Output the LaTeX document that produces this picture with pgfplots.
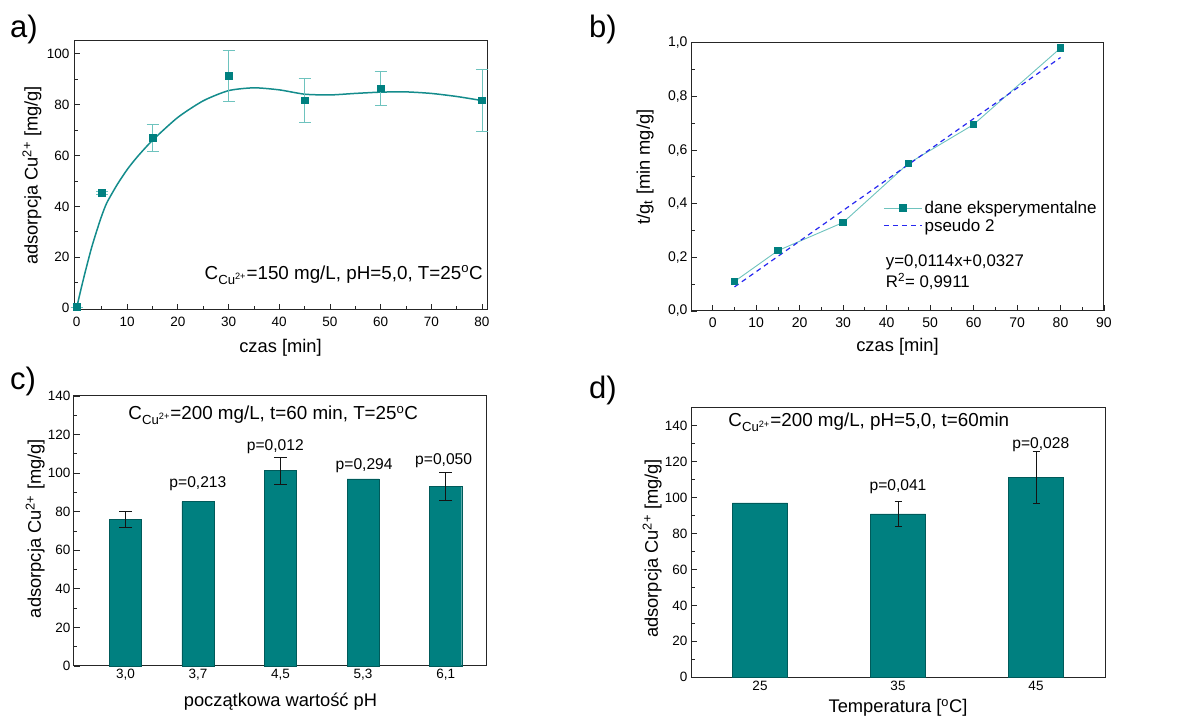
\documentclass[border=0pt]{standalone}
\usepackage{fontspec}
\setmainfont{Liberation Sans}
\usepackage{pgfplots}
\pgfplotsset{compat=1.18}
\definecolor{teal1}{RGB}{0,128,128}
\definecolor{tealline}{RGB}{20,140,140}
\definecolor{teallight}{RGB}{110,195,190}
\definecolor{fitblue}{RGB}{40,40,240}
\definecolor{errgrey}{RGB}{20,20,20}
\pgfplotsset{
  myaxis/.style={
    scale only axis,
    axis line style={black!85, line width=1pt},
    tick style={black!85, line width=0.8pt},
    tick align=inside,
    tick pos=left,
    major tick length=6pt,
    minor tick length=3.5pt,
    /pgf/number format/assume math mode=true,
    tick label style={font=\fontsize{13.5}{15}\selectfont},
    label style={font=\fontsize{18.3}{22}\selectfont},
    clip=false,
  }
}
\begin{document}
\begin{tikzpicture}
\useasboundingbox (0,0) rectangle (1179pt,720pt);
% panel labels
\node[anchor=base west, inner sep=0, font=\fontsize{31}{37}\selectfont] at (10pt,682pt) {a)};
\node[anchor=base west, inner sep=0, font=\fontsize{31}{37}\selectfont] at (589pt,682pt) {b)};
\node[anchor=base west, inner sep=0, font=\fontsize{31}{37}\selectfont] at (10pt,330pt) {c)};
\node[anchor=base west, inner sep=0, font=\fontsize{31}{37}\selectfont] at (589pt,321pt) {d)};

% ---------------- a)
\begin{axis}[myaxis,
  at={(74pt,410pt)}, anchor=south west,
  width=413pt, height=269pt,
  xmin=-0.5, xmax=81, ymin=-0.7, ymax=105,
  xtick={0,10,...,80}, ytick={0,20,...,100},
  minor x tick num=1, minor y tick num=1,
  xticklabel style={yshift=-4pt},
  yticklabel style={xshift=-1pt},
  xlabel={czas [min]},
  ylabel={adsorpcja Cu\textsuperscript{2+} [mg/g]},
  xlabel style={at={(axis description cs:0.5,-0.141)}, anchor=center},
  ylabel style={at={(axis description cs:-0.102,0.5)}, anchor=center},
]
\addplot[tealline, line width=1.5pt, smooth, tension=0.4] coordinates {
(0,0) (1,8.5) (2,16.5) (3,24) (4,30.5) (5,36.5) (6,41.5) (8,48.5) (10,54.5) (12,59.5)
(15,66) (20,75) (25,81.5) (30,85.5) (35,86.6) (40,85.8) (45,84.1) (50,83.8)
(55,84.4) (60,84.9) (65,85) (70,84.4) (75,83.2) (80,81.6)};
\addplot[only marks, mark=square*, mark size=3.3pt, mark options={fill=teal1, draw=teal1},
  error bars/.cd, y dir=both, y explicit,
  error bar style={teallight, line width=0.8pt},
  error mark options={rotate=90, mark size=6pt, teallight, line width=0.8pt}]
coordinates {
(0,0.5) +- (0,0)
(5,45.3) +- (0,0.6)
(15,67) +- (0,5.3)
(30,91.3) +- (0,10.1)
(45,81.7) +- (0,8.7)
(60,86.5) +- (0,6.7)
(80,81.7) +- (0,12.2)};
\node[anchor=base east, inner sep=0, font=\fontsize{18.8}{22}\selectfont] at (axis cs:80.2,11.4)
 {C\textsubscript{Cu\textsuperscript{2+}}=150 mg/L, pH=5,0, T=25\textsuperscript{o}C};
\end{axis}

% ---------------- b)
\begin{axis}[myaxis,
  at={(691pt,409pt)}, anchor=south west,
  width=413pt, height=268.3pt,
  xmin=-5, xmax=90, ymin=0, ymax=1,
  xtick={0,10,...,90}, ytick={0,0.2,...,1.0},
  minor x tick num=1, minor y tick num=1,
  tick label style={font=\fontsize{14}{16}\selectfont},
  xticklabel style={yshift=-3pt},
  yticklabel style={/pgf/number format/.cd, fixed, fixed zerofill, precision=1, use comma},
  xlabel={czas [min]},
  ylabel={t/g\textsubscript{t} [min mg/g]},
  xlabel style={at={(axis description cs:0.5,-0.134)}, anchor=center},
  ylabel style={at={(axis description cs:-0.111,0.537)}, anchor=center},
  legend style={draw=none, fill=none, at={(axis cs:39.2,0.418)}, anchor=north west,
    font=\fontsize{17}{20}\selectfont, inner sep=0pt, row sep=0pt},
  legend cell align=left,
  legend image code/.code={\draw[#1, mark repeat=2, mark phase=2] plot coordinates {(0pt,0pt) (19pt,0pt) (38pt,0pt)};},
]
\addplot[teallight, line width=0.9pt, mark=square*, mark size=3.3pt,
  mark options={fill=teal1, draw=teal1, solid}] coordinates {
(5,0.11) (15,0.225) (30,0.33) (45,0.55) (60,0.695) (80,0.98)};
\addlegendentry{dane eksperymentalne}
\addplot[fitblue, line width=1.2pt, dash pattern=on 5pt off 4pt] coordinates {(5,0.0897) (80,0.9447)};
\addlegendentry{pseudo 2}
\node[anchor=base west, inner sep=0, font=\fontsize{16.8}{20}\selectfont] at (axis cs:39.8,0.165) {y=0,0114x+0,0327};
\node[anchor=base west, inner sep=0, font=\fontsize{16.8}{20}\selectfont] at (axis cs:39.8,0.088) {R\textsuperscript{2}= 0,9911};
\end{axis}

% ---------------- c)
\begin{axis}[myaxis,
  at={(74pt,54pt)}, anchor=south west,
  width=413pt, height=270pt,
  xmin=2.5, xmax=6.5, ymin=0, ymax=140,
  xtick={3.0,3.7,4.5,5.3,6.1},
  xticklabels={{3,0},{3,7},{4,5},{5,3},{6,1}},
  ytick={0,20,...,140}, minor y tick num=1,
  xtick style={draw=none},
  xlabel={początkowa wartość pH},
  ylabel={adsorpcja Cu\textsuperscript{2+} [mg/g]},
  xlabel style={at={(axis description cs:0.5,-0.132)}, anchor=center},
  ylabel style={at={(axis description cs:-0.094,0.509)}, anchor=center},
]
\addplot[ybar, bar width=0.31, fill=teal1, draw=teal1!70!black, line width=0.4pt] coordinates {
(3.0,76) (3.7,85.2) (4.5,101.3) (5.3,97) (6.1,93.3)};
\addplot[draw=none, mark=none, forget plot, error bars/.cd, y dir=both, y explicit,
  error bar style={draw=errgrey, line width=0.8pt},
  error mark options={rotate=90, mark size=6.5pt, draw=errgrey, line width=0.8pt}]
coordinates {(3.0,76) +- (0,4) (4.5,101.3) +- (0,7) (6.1,93.3) +- (0,7.2)};
\node[anchor=base, inner sep=0, font=\fontsize{18.8}{22}\selectfont] at (axis cs:4.43,127.9)
 {C\textsubscript{Cu\textsuperscript{2+}}=200 mg/L, t=60 min, T=25\textsuperscript{o}C};
\node[anchor=base, inner sep=0, font=\fontsize{15.6}{18}\selectfont] at (axis cs:3.7,92.5) {p=0,213};
\node[anchor=base, inner sep=0, font=\fontsize{15.6}{18}\selectfont] at (axis cs:4.45,111.5) {p=0,012};
\node[anchor=base, inner sep=0, font=\fontsize{15.6}{18}\selectfont] at (axis cs:5.31,102.1) {p=0,294};
\node[anchor=base, inner sep=0, font=\fontsize{15.6}{18}\selectfont] at (axis cs:6.08,104.7) {p=0,050};
\end{axis}

% ---------------- d)
\begin{axis}[myaxis,
  at={(691pt,42.7pt)}, anchor=south west,
  width=414pt, height=269.6pt,
  xmin=20, xmax=50, ymin=0, ymax=150,
  xtick={25,35,45},
  ytick={0,20,...,140}, minor y tick num=1,
  xtick style={draw=none},
  xlabel={Temperatura [\textsuperscript{o}C]},
  ylabel={adsorpcja Cu\textsuperscript{2+} [mg/g]},
  xlabel style={at={(axis description cs:0.5,-0.114)}, anchor=center},
  ylabel style={at={(axis description cs:-0.094,0.478)}, anchor=center},
]
\addplot[ybar, bar width=4, fill=teal1, draw=teal1!70!black, line width=0.4pt] coordinates {
(25,97) (35,90.9) (45,111.2)};
\addplot[draw=none, mark=none, forget plot, error bars/.cd, y dir=both, y explicit,
  error bar style={draw=errgrey, line width=0.8pt},
  error mark options={rotate=90, mark size=3.5pt, draw=errgrey, line width=0.8pt}]
coordinates {(35,90.9) +- (0,6.7) (45,111.2) +- (0,14.4)};
\node[anchor=base west, inner sep=0, font=\fontsize{18.8}{22}\selectfont] at (axis cs:22.7,139.4)
 {C\textsubscript{Cu\textsuperscript{2+}}=200 mg/L, pH=5,0, t=60min};
\node[anchor=base, inner sep=0, font=\fontsize{15.6}{18}\selectfont] at (axis cs:35,103.7) {p=0,041};
\node[anchor=base, inner sep=0, font=\fontsize{15.6}{18}\selectfont] at (axis cs:45.35,127.4) {p=0,028};
\end{axis}
\end{tikzpicture}
\end{document}
